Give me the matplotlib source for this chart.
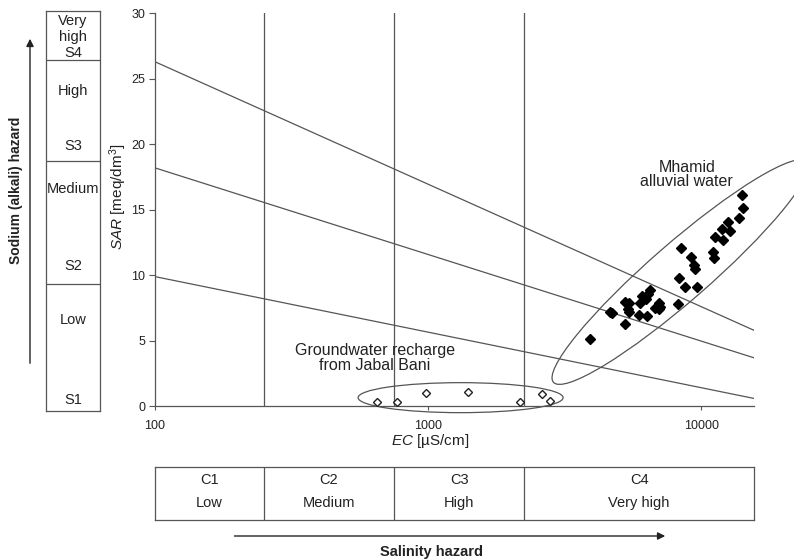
import numpy as np
import matplotlib
matplotlib.use("Agg")
import matplotlib.pyplot as plt
from matplotlib.patches import Ellipse
from matplotlib import transforms
from matplotlib.ticker import NullLocator, FixedLocator, FixedFormatter

plt.rcParams['font.family'] = ['Liberation Sans', 'DejaVu Sans']
plt.rcParams['mathtext.fontset'] = 'custom'
plt.rcParams['mathtext.rm'] = 'Liberation Sans'
plt.rcParams['mathtext.it'] = 'Liberation Sans:italic'

# ---------------- data ----------------
ec_mhamid = [14100, 14210, 12480, 13700, 11910, 12770, 11250, 12010, 8430, 11040,
             11100, 9170, 9430, 9510, 8260, 8740, 9650, 8220, 6470, 6360,
             6070, 6290, 5980, 5270, 5420, 5370, 5460, 6980, 7040, 6780,
             6980, 5940, 6330, 4710, 4640, 5280, 3900]
sar_mhamid = [16.1, 15.1, 14.1, 14.4, 13.5, 13.4, 12.9, 12.7, 12.1, 11.8,
              11.3, 11.4, 10.8, 10.5, 9.8, 9.1, 9.1, 7.8, 8.9, 8.6,
              8.4, 8.2, 7.9, 8.0, 7.9, 7.4, 7.2, 7.9, 7.6, 7.5,
              7.4, 7.0, 6.9, 7.1, 7.2, 6.3, 5.1]

ec_gw = [652, 772, 983, 1397, 2173, 2609, 2798]
sar_gw = [0.35, 0.35, 1.04, 1.09, 0.35, 0.94, 0.43]

ec_limits = [100, 15600]
ec_boundaries = [250, 750, 2250]
hazard_line_ec = [100, 15600]
hazard_lines_sar = [[26.3, 5.8], [18.2, 3.7], [9.9, 0.6]]

salinity_classes = ["C1", "C2", "C3", "C4"]
salinity_names = ["Low", "Medium", "High", "Very high"]

sodium_boundaries = [9.3, 18.7, 26.4]
sodium_labels = ["Very\nhigh\nS4", "High", "S3", "Medium", "S2", "Low", "S1"]
sodium_label_sar = [28.2, 24.1, 19.9, 16.6, 10.7, 6.6, 0.5]

x_ticks = [100, 1000, 10000]
x_ticklabels = ["100", "1000", "10000"]
y_ticks = [0, 5, 10, 15, 20, 25, 30]

# ---------------- layout helpers ----------------
W, H = 794, 560
LC = '#555555'
TC = '#222222'
fig = plt.figure(figsize=(W / 100, H / 100), dpi=100)


def fx(x):
    return x / W


def fy(y):
    return 1 - y / H


# main axes
ax = fig.add_axes([fx(155), fy(406.3), (754 - 155) / W, (406.3 - 13.3) / H])
ax.set_xscale('log')
ax.set_xlim(*ec_limits)
ax.set_ylim(0, 30)
for s in ['top', 'right']:
    ax.spines[s].set_visible(False)
for s in ['left', 'bottom']:
    ax.spines[s].set_color(LC)
    ax.spines[s].set_linewidth(0.9)
ax.xaxis.set_major_locator(FixedLocator(x_ticks))
ax.xaxis.set_major_formatter(FixedFormatter(x_ticklabels))
ax.xaxis.set_minor_locator(NullLocator())
ax.set_yticks(y_ticks)
ax.tick_params(axis='y', length=4, width=0.8, color=LC, pad=3, labelsize=9, labelcolor=TC)
ax.tick_params(axis='x', length=3, width=0.8, color=LC, pad=7, labelsize=9, labelcolor=TC)

for b in ec_boundaries:
    ax.axvline(b, color=LC, lw=0.9)
for line in hazard_lines_sar:
    ax.plot(hazard_line_ec, line, color=LC, lw=0.9)


def add_ellipse(ec, sar, w_px, h_px, angle):
    tr = fig.dpi_scale_trans + transforms.ScaledTranslation(ec, sar, ax.transData)
    e = Ellipse((0, 0), w_px / 100, h_px / 100, angle=angle, transform=tr,
                fill=False, ec=LC, lw=0.9, clip_on=False)
    ax.add_patch(e)


add_ellipse(8375, 10.25, 336, 58, 41)
add_ellipse(1315, 0.66, 205, 30, 0)

ax.plot(ec_mhamid, sar_mhamid, 'D', ms=5, color='black', clip_on=False, zorder=5)
ax.plot(ec_gw, sar_gw, 'D', ms=3.8, mfc='white', mec='#222222', mew=1.0,
        clip_on=False, zorder=5)

fig.text(fx(686.7), fy(174.5), "Mhamid\nalluvial water", ha='center', va='center',
         fontsize=11.5, color=TC, linespacing=1.0)
fig.text(fx(374.7), fy(357.5), "Groundwater recharge\nfrom Jabal Bani", ha='center',
         va='center', fontsize=11.5, color=TC, linespacing=1.0)

fig.text(fx(430), fy(441), r"$\mathit{EC}$ [µS/cm]", ha='center', va='center',
         fontsize=11, color=TC)
fig.text(fx(118), fy(197), r"$\mathit{SAR}$ [meq/dm$^3$]", ha='center', va='center',
         rotation=90, fontsize=11, color=TC)

# left sodium hazard box
axl = fig.add_axes([fx(46), fy(411), (100 - 46) / W, (411 - 10.7) / H])
axl.set_ylim((406.3 - 411) / 13.1, (406.3 - 10.7) / 13.1)
axl.set_xlim(0, 1)
axl.set_xticks([])
axl.set_yticks([])
for s in axl.spines.values():
    s.set_color(LC)
    s.set_linewidth(0.9)
for b in sodium_boundaries:
    axl.axhline(b, color=LC, lw=0.9)
for lab, y in zip(sodium_labels, sodium_label_sar):
    axl.text(0.5, y, lab, ha='center', va='center', fontsize=10.5, color=TC,
             linespacing=1.15)

axl.annotate('', xy=(fx(30), fy(36)), xytext=(fx(30), fy(366)),
             xycoords='figure fraction', textcoords='figure fraction',
             arrowprops=dict(arrowstyle='-|>', color=TC, lw=1, mutation_scale=11))
fig.text(fx(16), fy(190), "Sodium (alkali) hazard", rotation=90, ha='center',
         va='center', fontsize=10, fontweight='bold', color=TC)

# bottom salinity hazard box
axb = fig.add_axes([fx(155), fy(520), (754 - 155) / W, (520 - 466.7) / H])
axb.set_xscale('log')
axb.set_xlim(*ec_limits)
axb.set_ylim(0, 1)
axb.xaxis.set_major_locator(NullLocator())
axb.xaxis.set_minor_locator(NullLocator())
axb.set_yticks([])
for s in axb.spines.values():
    s.set_color(LC)
    s.set_linewidth(0.9)
for b in ec_boundaries:
    axb.axvline(b, color=LC, lw=0.9)
edges = [ec_limits[0]] + ec_boundaries + [ec_limits[1]]
for i, (c, n) in enumerate(zip(salinity_classes, salinity_names)):
    xc = np.sqrt(edges[i] * edges[i + 1])
    axb.text(xc, 0.75, c, ha='center', va='center', fontsize=10.5, color=TC)
    axb.text(xc, 0.31, n, ha='center', va='center', fontsize=10.5, color=TC)

axb.annotate('', xy=(fx(668), fy(536)), xytext=(fx(231.7), fy(536)),
             xycoords='figure fraction', textcoords='figure fraction',
             arrowprops=dict(arrowstyle='-|>', color=TC, lw=1, mutation_scale=11))
fig.text(fx(431), fy(551.7), "Salinity hazard", ha='center', va='center',
         fontsize=10.5, fontweight='bold', color=TC)

fig.savefig("out.png", dpi=100)
